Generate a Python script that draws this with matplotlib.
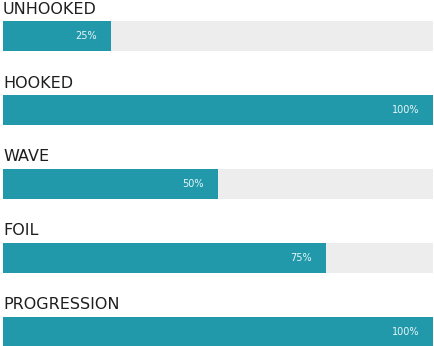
import matplotlib
matplotlib.use("Agg")
import matplotlib.pyplot as plt

categories = ["UNHOOKED", "HOOKED", "WAVE", "FOIL", "PROGRESSION"]
values = [25, 100, 50, 75, 100]
value_labels = ["25%", "100%", "50%", "75%", "100%"]

W, H = 434, 346
fig = plt.figure(figsize=(W / 100, H / 100), dpi=100)
ax = fig.add_axes([0, 0, 1, 1])

px_per_unit_x = 430 / 100.0
x0 = 3
ax.set_xlim(-x0 / px_per_unit_x, (W - x0) / px_per_unit_x)
spacing = 74.0
c0 = 36.0
ax.set_ylim((H - c0) / spacing, (0 - c0) / spacing)
ax.axis("off")

teal = "#2199AA"
track = "#EDEDED"
bh = 30 / spacing
ys = list(range(len(categories)))

ax.barh(ys, [100] * len(ys), height=bh, color=track, left=0)
ax.barh(ys, values, height=bh, color=teal, left=0)

for y, cat, v, lab in zip(ys, categories, values, value_labels):
    ax.text(0, y - 27 / spacing, cat, ha="left", va="center",
            fontsize=11.5, family="DejaVu Sans", color="#1e1e1e")
    ax.text(v - 14 / px_per_unit_x, y, lab, ha="right", va="center",
            fontsize=7, family="DejaVu Sans", color="#e8f6f8")

fig.savefig("out.png", dpi=100)
